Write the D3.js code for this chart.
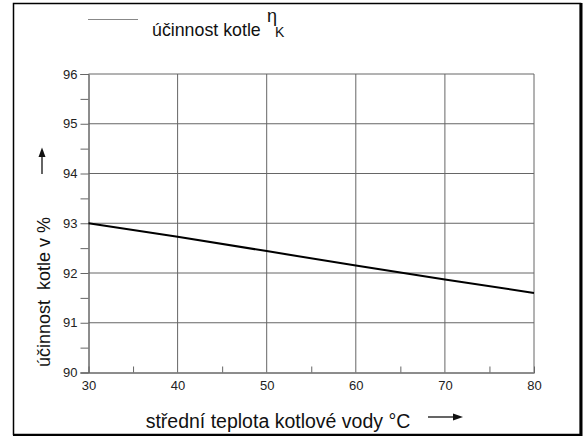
<!DOCTYPE html>
<html><head><meta charset="utf-8">
<script src="https://cdn.jsdelivr.net/npm/d3@7"></script>
<style>body{margin:0;background:#fff}svg{display:block;font-family:"Liberation Sans",Arial,sans-serif}</style>
</head><body>
<svg id="c" width="586" height="437"></svg>
<script>
const temps = [30, 40, 50, 60, 70, 80];
const efficiency = [93.0, 92.73, 92.44, 92.15, 91.87, 91.6];
const xTicks = [30, 40, 50, 60, 70, 80];
const yTicks = [90, 91, 92, 93, 94, 95, 96];
const xMinor = [35, 45, 55, 65, 75];
const yMinor = [90.5, 91.5, 92.5, 93.5, 94.5, 95.5];

const svg = d3.select("#c");
// frame
svg.append("rect").attr("x",13.5).attr("y",3.5).attr("width",567).attr("height",431)
  .attr("fill","none").attr("stroke","#000").attr("stroke-width",1.5);
svg.append("line").attr("x1",581).attr("x2",581).attr("y1",3).attr("y2",436).attr("stroke","#000").attr("stroke-width",3);
svg.append("line").attr("x1",13).attr("x2",582).attr("y1",435).attr("y2",435).attr("stroke","#000").attr("stroke-width",2);

const x = d3.scaleLinear().domain([30,80]).range([88.5,534]);
const y = d3.scaleLinear().domain([90,96]).range([372.5,74]);
const gc = "#666";
const g = svg.append("g");
// grid
g.selectAll(".vg").data(xTicks.slice(1)).join("line")
  .attr("x1",d=>x(d)).attr("x2",d=>x(d)).attr("y1",y(96)).attr("y2",y(90))
  .attr("stroke",gc).attr("stroke-width",1);
g.selectAll(".hg").data(yTicks.slice(1)).join("line")
  .attr("x1",x(30)).attr("x2",x(80)).attr("y1",d=>y(d)).attr("y2",d=>y(d))
  .attr("stroke",gc).attr("stroke-width",1);
// axes
const ya = svg.append("g").attr("transform",`translate(${x(30)},0)`)
  .call(d3.axisLeft(y).tickValues(yTicks).tickSize(8).tickPadding(3).tickFormat(d3.format("d")));
const yam = svg.append("g").attr("transform",`translate(${x(30)},0)`)
  .call(d3.axisLeft(y).tickValues(yMinor).tickSize(8).tickFormat(""));
const xa = svg.append("g").attr("transform",`translate(0,${y(90)})`)
  .call(d3.axisBottom(x).tickValues(xTicks).tickSize(0).tickPadding(8).tickFormat(d3.format("d")));
const xam = svg.append("g").attr("transform",`translate(0,${y(90)})`)
  .call(d3.axisBottom(x).tickValues(xMinor).tickSize(-6).tickFormat(""));
[ya,yam,xa,xam].forEach(a=>{
  a.selectAll(".domain").attr("stroke",gc);
  a.selectAll(".tick line").attr("stroke",gc);
  a.selectAll("text").attr("font-size",13).attr("fill","#222").attr("font-family","Liberation Sans, Arial, sans-serif");
});
// data line
svg.append("path").datum(temps.map((t,i)=>[t,efficiency[i]]))
  .attr("d",d3.line().x(d=>x(d[0])).y(d=>y(d[1])))
  .attr("fill","none").attr("stroke","#000").attr("stroke-width",2);

// legend
svg.append("line").attr("x1",88).attr("x2",138).attr("y1",19.5).attr("y2",19.5).attr("stroke","#888").attr("stroke-width",1.2);
svg.append("text").attr("x",152).attr("y",36).attr("font-size",17.8).attr("fill","#111").text("účinnost kotle");
svg.append("text").attr("x",267).attr("y",22).attr("font-size",18).attr("fill","#111").text("η");
svg.append("text").attr("x",275).attr("y",37).attr("font-size",14).attr("fill","#111").text("K");

// y label
svg.append("text").attr("transform","translate(50,292) rotate(-90)").attr("text-anchor","middle")
  .attr("font-size",18).attr("fill","#111").attr("xml:space","preserve").text("účinnost  kotle v %");
svg.append("line").attr("x1",42).attr("x2",42).attr("y1",174).attr("y2",155).attr("stroke","#111").attr("stroke-width",1.3);
svg.append("path").attr("d","M38.5,157 L42,147.5 L45.5,157 Z").attr("fill","#111");

// x label
svg.append("text").attr("x",278).attr("y",428).attr("text-anchor","middle")
  .attr("font-size",19.5).attr("fill","#111").text("střední teplota kotlové vody °C");
svg.append("line").attr("x1",428).attr("x2",455).attr("y1",417).attr("y2",417).attr("stroke","#111").attr("stroke-width",1.3);
svg.append("path").attr("d","M453,413.5 L463,417 L453,420.5 Z").attr("fill","#111");
</script>
</body></html>
